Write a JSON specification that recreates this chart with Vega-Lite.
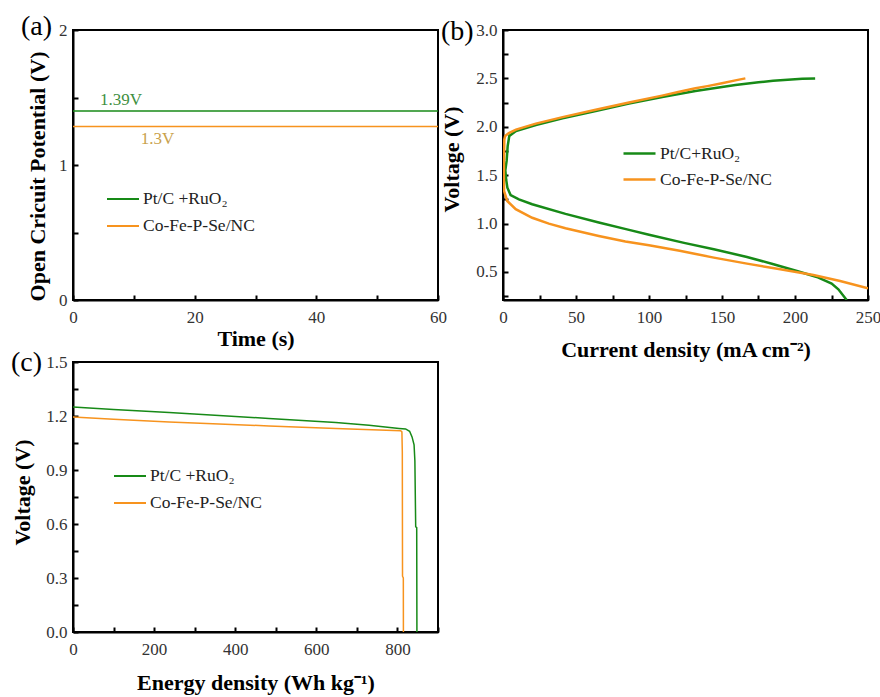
{
  "$schema": "https://vega.github.io/schema/vega-lite/v6.json",
  "background": "white",
  "padding": {"left": 10, "top": 12, "right": 5, "bottom": 5},
  "columns": 2,
  "spacing": {"column": 65, "row": 62},
  "bounds": "flush",
  "resolve": {"scale": {"color": "independent"}},
  "config": {
    "font": "Liberation Serif",
    "view": {"stroke": "black", "strokeWidth": 2},
    "axis": {
      "domainColor": "black", "domainWidth": 2, "tickColor": "black", "tickWidth": 2, "tickSize": -5,
      "grid": false, "labelFont": "Liberation Serif", "labelFontSize": 17, "labelColor": "#333333",
      "labelFlush": false, "labelOverlap": false,
      "titleFont": "Liberation Serif", "titleFontSize": 22, "titleFontWeight": "bold", "titleColor": "black"
    },
    "axisX": {"labelPadding": 14},
    "axisY": {"labelPadding": 11},
    "legend": {
      "orient": "none", "title": null, "symbolType": "M-2,0H2", "symbolSize": 256, "symbolStrokeWidth": 2,
      "labelFont": "Liberation Serif", "labelFontSize": 17.5, "labelColor": "#222222", "padding": 0,
      "rowPadding": 9, "labelOffset": 11
    },
    "title": {"font": "Liberation Serif", "fontSize": 28, "fontWeight": "normal", "color": "black", "anchor": "start", "frame": "group", "offset": 0, "baseline": "alphabetic"}
  },
  "datasets": {
    "a": [
      {"t": 0, "v": 1.40, "s": "Pt/C +RuO₂"}, {"t": 60, "v": 1.40, "s": "Pt/C +RuO₂"},
      {"t": 0, "v": 1.285, "s": "Co-Fe-P-Se/NC"}, {"t": 60, "v": 1.285, "s": "Co-Fe-P-Se/NC"}
    ],
    "alab": [
      {"t": 7.9, "v": 1.478, "label": "1.39V", "s": "Pt"},
      {"t": 13.9, "v": 1.19, "label": "1.3V", "s": "Co"}
    ],
    "b": [
      {"i": 1, "j": 213.8, "v": 2.50, "s": "Pt/C+RuO₂"},
      {"i": 2, "j": 205, "v": 2.496, "s": "Pt/C+RuO₂"},
      {"i": 3, "j": 195, "v": 2.487, "s": "Pt/C+RuO₂"},
      {"i": 4, "j": 185, "v": 2.475, "s": "Pt/C+RuO₂"},
      {"i": 5, "j": 175, "v": 2.46, "s": "Pt/C+RuO₂"},
      {"i": 6, "j": 159.2, "v": 2.432, "s": "Pt/C+RuO₂"},
      {"i": 7, "j": 131.8, "v": 2.370, "s": "Pt/C+RuO₂"},
      {"i": 8, "j": 109.1, "v": 2.308, "s": "Pt/C+RuO₂"},
      {"i": 9, "j": 86.3, "v": 2.239, "s": "Pt/C+RuO₂"},
      {"i": 10, "j": 63.5, "v": 2.163, "s": "Pt/C+RuO₂"},
      {"i": 11, "j": 40.8, "v": 2.088, "s": "Pt/C+RuO₂"},
      {"i": 12, "j": 22.5, "v": 2.019, "s": "Pt/C+RuO₂"},
      {"i": 13, "j": 8.9, "v": 1.957, "s": "Pt/C+RuO₂"},
      {"i": 14, "j": 4.3, "v": 1.905, "s": "Pt/C+RuO₂"},
      {"i": 15, "j": 3.2, "v": 1.80, "s": "Pt/C+RuO₂"},
      {"i": 16, "j": 2.5, "v": 1.65, "s": "Pt/C+RuO₂"},
      {"i": 17, "j": 1.6, "v": 1.55, "s": "Pt/C+RuO₂"},
      {"i": 18, "j": 2.2, "v": 1.45, "s": "Pt/C+RuO₂"},
      {"i": 19, "j": 3.0, "v": 1.37, "s": "Pt/C+RuO₂"},
      {"i": 20, "j": 5.2, "v": 1.295, "s": "Pt/C+RuO₂"},
      {"i": 21, "j": 10.9, "v": 1.25, "s": "Pt/C+RuO₂"},
      {"i": 22, "j": 20, "v": 1.199, "s": "Pt/C+RuO₂"},
      {"i": 23, "j": 42.8, "v": 1.10, "s": "Pt/C+RuO₂"},
      {"i": 24, "j": 65.6, "v": 1.01, "s": "Pt/C+RuO₂"},
      {"i": 25, "j": 84.9, "v": 0.94, "s": "Pt/C+RuO₂"},
      {"i": 26, "j": 100, "v": 0.885, "s": "Pt/C+RuO₂"},
      {"i": 27, "j": 124, "v": 0.80, "s": "Pt/C+RuO₂"},
      {"i": 28, "j": 144.4, "v": 0.734, "s": "Pt/C+RuO₂"},
      {"i": 29, "j": 167.1, "v": 0.655, "s": "Pt/C+RuO₂"},
      {"i": 30, "j": 185.3, "v": 0.58, "s": "Pt/C+RuO₂"},
      {"i": 31, "j": 201.3, "v": 0.51, "s": "Pt/C+RuO₂"},
      {"i": 32, "j": 214.9, "v": 0.448, "s": "Pt/C+RuO₂"},
      {"i": 33, "j": 225.1, "v": 0.38, "s": "Pt/C+RuO₂"},
      {"i": 34, "j": 229.7, "v": 0.32, "s": "Pt/C+RuO₂"},
      {"i": 35, "j": 235.4, "v": 0.21, "s": "Pt/C+RuO₂"},
      {"i": 1, "j": 166, "v": 2.50, "s": "Co-Fe-P-Se/NC"},
      {"i": 2, "j": 160, "v": 2.482, "s": "Co-Fe-P-Se/NC"},
      {"i": 3, "j": 150, "v": 2.45, "s": "Co-Fe-P-Se/NC"},
      {"i": 4, "j": 140, "v": 2.42, "s": "Co-Fe-P-Se/NC"},
      {"i": 5, "j": 131.8, "v": 2.398, "s": "Co-Fe-P-Se/NC"},
      {"i": 6, "j": 120, "v": 2.36, "s": "Co-Fe-P-Se/NC"},
      {"i": 7, "j": 109, "v": 2.322, "s": "Co-Fe-P-Se/NC"},
      {"i": 8, "j": 86.3, "v": 2.25, "s": "Co-Fe-P-Se/NC"},
      {"i": 9, "j": 63.5, "v": 2.175, "s": "Co-Fe-P-Se/NC"},
      {"i": 10, "j": 40.8, "v": 2.10, "s": "Co-Fe-P-Se/NC"},
      {"i": 11, "j": 22.5, "v": 2.033, "s": "Co-Fe-P-Se/NC"},
      {"i": 12, "j": 8.9, "v": 1.97, "s": "Co-Fe-P-Se/NC"},
      {"i": 13, "j": 4, "v": 1.935, "s": "Co-Fe-P-Se/NC"},
      {"i": 14, "j": 1.5, "v": 1.905, "s": "Co-Fe-P-Se/NC"},
      {"i": 15, "j": 0.9, "v": 1.87, "s": "Co-Fe-P-Se/NC"},
      {"i": 16, "j": 0.7, "v": 1.7, "s": "Co-Fe-P-Se/NC"},
      {"i": 17, "j": 0.6, "v": 1.5, "s": "Co-Fe-P-Se/NC"},
      {"i": 18, "j": 0.7, "v": 1.337, "s": "Co-Fe-P-Se/NC"},
      {"i": 19, "j": 2.9, "v": 1.233, "s": "Co-Fe-P-Se/NC"},
      {"i": 20, "j": 8.7, "v": 1.148, "s": "Co-Fe-P-Se/NC"},
      {"i": 21, "j": 20, "v": 1.06, "s": "Co-Fe-P-Se/NC"},
      {"i": 22, "j": 31.4, "v": 0.999, "s": "Co-Fe-P-Se/NC"},
      {"i": 23, "j": 42.8, "v": 0.951, "s": "Co-Fe-P-Se/NC"},
      {"i": 24, "j": 65.6, "v": 0.872, "s": "Co-Fe-P-Se/NC"},
      {"i": 25, "j": 83.8, "v": 0.815, "s": "Co-Fe-P-Se/NC"},
      {"i": 26, "j": 100, "v": 0.775, "s": "Co-Fe-P-Se/NC"},
      {"i": 27, "j": 121, "v": 0.718, "s": "Co-Fe-P-Se/NC"},
      {"i": 28, "j": 144.4, "v": 0.648, "s": "Co-Fe-P-Se/NC"},
      {"i": 29, "j": 167.1, "v": 0.586, "s": "Co-Fe-P-Se/NC"},
      {"i": 30, "j": 189.9, "v": 0.528, "s": "Co-Fe-P-Se/NC"},
      {"i": 31, "j": 212.6, "v": 0.469, "s": "Co-Fe-P-Se/NC"},
      {"i": 32, "j": 230.9, "v": 0.407, "s": "Co-Fe-P-Se/NC"},
      {"i": 33, "j": 250, "v": 0.33, "s": "Co-Fe-P-Se/NC"}
    ],
    "c": [
      {"i": 1, "e": 0, "v": 1.25, "s": "Pt/C +RuO₂"},
      {"i": 2, "e": 100, "v": 1.236, "s": "Pt/C +RuO₂"},
      {"i": 3, "e": 237, "v": 1.219, "s": "Pt/C +RuO₂"},
      {"i": 4, "e": 360, "v": 1.203, "s": "Pt/C +RuO₂"},
      {"i": 5, "e": 483, "v": 1.186, "s": "Pt/C +RuO₂"},
      {"i": 6, "e": 648, "v": 1.164, "s": "Pt/C +RuO₂"},
      {"i": 7, "e": 730, "v": 1.148, "s": "Pt/C +RuO₂"},
      {"i": 8, "e": 804, "v": 1.131, "s": "Pt/C +RuO₂"},
      {"i": 9, "e": 820, "v": 1.128, "s": "Pt/C +RuO₂"},
      {"i": 10, "e": 830, "v": 1.115, "s": "Pt/C +RuO₂"},
      {"i": 11, "e": 836, "v": 1.084, "s": "Pt/C +RuO₂"},
      {"i": 12, "e": 841, "v": 1.04, "s": "Pt/C +RuO₂"},
      {"i": 13, "e": 843, "v": 0.95, "s": "Pt/C +RuO₂"},
      {"i": 14, "e": 845, "v": 0.585, "s": "Pt/C +RuO₂"},
      {"i": 15, "e": 847.5, "v": 0.58, "s": "Pt/C +RuO₂"},
      {"i": 16, "e": 848, "v": 0, "s": "Pt/C +RuO₂"},
      {"i": 1, "e": 0, "v": 1.195, "s": "Co-Fe-P-Se/NC"},
      {"i": 2, "e": 100, "v": 1.182, "s": "Co-Fe-P-Se/NC"},
      {"i": 3, "e": 237, "v": 1.167, "s": "Co-Fe-P-Se/NC"},
      {"i": 4, "e": 360, "v": 1.156, "s": "Co-Fe-P-Se/NC"},
      {"i": 5, "e": 483, "v": 1.145, "s": "Co-Fe-P-Se/NC"},
      {"i": 6, "e": 648, "v": 1.131, "s": "Co-Fe-P-Se/NC"},
      {"i": 7, "e": 808, "v": 1.118, "s": "Co-Fe-P-Se/NC"},
      {"i": 8, "e": 811, "v": 1.112, "s": "Co-Fe-P-Se/NC"},
      {"i": 9, "e": 812, "v": 1.0, "s": "Co-Fe-P-Se/NC"},
      {"i": 10, "e": 812.5, "v": 0.31, "s": "Co-Fe-P-Se/NC"},
      {"i": 11, "e": 814.5, "v": 0.30, "s": "Co-Fe-P-Se/NC"},
      {"i": 12, "e": 814.7, "v": 0, "s": "Co-Fe-P-Se/NC"}
    ]
  },
  "concat": [
    {
      "width": 365, "height": 270,
      "title": {"text": "(a)", "dx": -52, "dy": 24},
      "layer": [
        {
          "data": {"name": "a"},
          "mark": {"type": "line", "strokeWidth": 1.5, "clip": true},
          "encoding": {
            "x": {"field": "t", "type": "quantitative", "scale": {"domain": [0, 60], "nice": false},
              "axis": {"title": "Time (s)", "values": [0, 10, 20, 30, 40, 50, 60],
                "labelExpr": "datum.value % 20 === 0 ? datum.label : ''", "titleY": 28}},
            "y": {"field": "v", "type": "quantitative", "scale": {"domain": [0, 2], "nice": false},
              "axis": {"title": "Open Cricuit Potential (V)", "values": [0, 0.5, 1, 1.5, 2],
                "labelExpr": "datum.value % 1 === 0 ? format(datum.value, 'd') : ''", "titleX": -24, "titleY": 146}},
            "color": {"field": "s", "type": "nominal",
              "scale": {"domain": ["Pt/C +RuO₂", "Co-Fe-P-Se/NC"], "range": ["#178a17", "#f7931e"]},
              "legend": {"legendX": 41, "legendY": 160}}
          }
        },
        {
          "data": {"name": "alab"},
          "transform": [{"filter": "datum.s === 'Pt'"}],
          "mark": {"type": "text", "fontSize": 17, "color": "#3f8f3f", "baseline": "middle", "font": "Liberation Serif"},
          "encoding": {
            "x": {"field": "t", "type": "quantitative"},
            "y": {"field": "v", "type": "quantitative"},
            "text": {"field": "label"}
          }
        },
        {
          "data": {"name": "alab"},
          "transform": [{"filter": "datum.s === 'Co'"}],
          "mark": {"type": "text", "fontSize": 17, "color": "#c9a24d", "baseline": "middle", "font": "Liberation Serif"},
          "encoding": {
            "x": {"field": "t", "type": "quantitative"},
            "y": {"field": "v", "type": "quantitative"},
            "text": {"field": "label"}
          }
        }
      ]
    },
    {
      "width": 365, "height": 270,
      "title": {"text": "(b)", "dx": -62, "dy": 29},
      "data": {"name": "b"},
      "mark": {"type": "line", "strokeWidth": 2.5, "clip": true},
      "encoding": {
        "x": {"field": "j", "type": "quantitative", "scale": {"domain": [0, 250], "nice": false},
          "axis": {"title": "Current density (mA cm⁻²)", "values": [0, 25, 50, 75, 100, 125, 150, 175, 200, 225, 250],
            "labelExpr": "datum.value % 50 === 0 ? datum.label : ''", "titleY": 39}},
        "y": {"field": "v", "type": "quantitative", "scale": {"domain": [0.21, 3.0], "nice": false, "zero": false},
          "axis": {"title": "Voltage (V)", "values": [0.25, 0.5, 0.75, 1, 1.25, 1.5, 1.75, 2, 2.25, 2.5, 2.75, 3],
            "labelExpr": "abs(datum.value * 2 - round(datum.value * 2)) < 0.001 ? format(datum.value, '.1f') : ''",
            "titleX": -40, "titleY": 129}},
        "order": {"field": "i", "type": "quantitative"},
        "color": {"field": "s", "type": "nominal",
          "scale": {"domain": ["Pt/C+RuO₂", "Co-Fe-P-Se/NC"], "range": ["#178a17", "#f7931e"]},
          "legend": {"legendX": 127, "legendY": 114, "rowPadding": 8, "symbolStrokeWidth": 2.5}}
      }
    },
    {
      "width": 365, "height": 270,
      "title": {"text": "(c)", "dx": -62, "dy": 28},
      "data": {"name": "c"},
      "mark": {"type": "line", "strokeWidth": 1.5, "clip": true},
      "encoding": {
        "x": {"field": "e", "type": "quantitative", "scale": {"domain": [0, 900], "nice": false},
          "axis": {"title": "Energy density (Wh kg⁻¹)", "values": [0, 100, 200, 300, 400, 500, 600, 700, 800, 900],
            "labelExpr": "datum.value % 200 === 0 ? datum.label : ''", "titleY": 40}},
        "y": {"field": "v", "type": "quantitative", "scale": {"domain": [0, 1.5], "nice": false},
          "axis": {"title": "Voltage (V)", "values": [0, 0.15, 0.3, 0.45, 0.6, 0.75, 0.9, 1.05, 1.2, 1.35, 1.5],
            "labelExpr": "abs(datum.value / 0.3 - round(datum.value / 0.3)) < 0.001 ? format(datum.value, '.1f') : ''",
            "titleX": -39, "titleY": 130}},
        "order": {"field": "i", "type": "quantitative"},
        "color": {"field": "s", "type": "nominal",
          "scale": {"domain": ["Pt/C +RuO₂", "Co-Fe-P-Se/NC"], "range": ["#178a17", "#f7931e"]},
          "legend": {"legendX": 48, "legendY": 105}}
      }
    }
  ]
}
